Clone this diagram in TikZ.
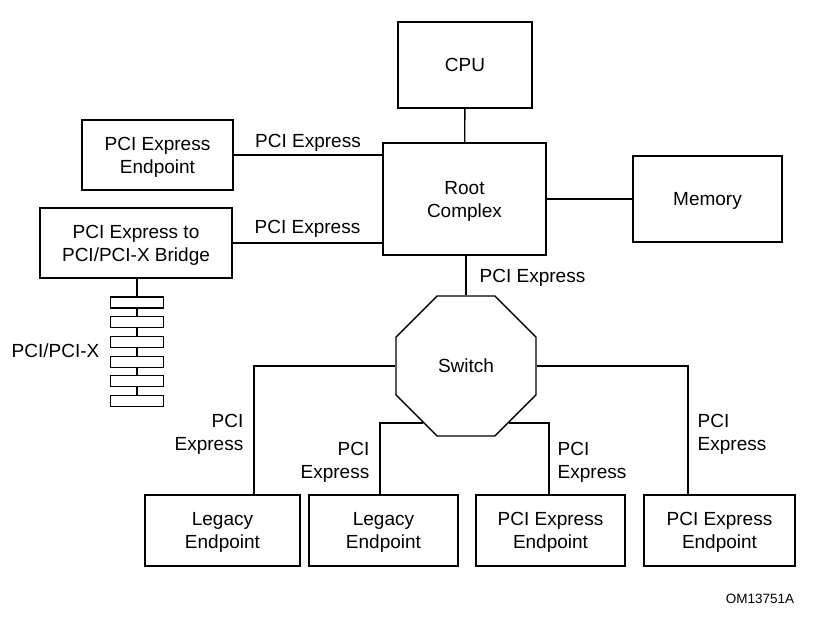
\documentclass[tikz,border=0pt]{standalone}
\usepackage{fontspec}
\setmainfont{Liberation Sans}
\usetikzlibrary{shapes.geometric, positioning, calc}

\begin{document}
\begin{tikzpicture}[x=1pt, y=-1pt, line width=1.4pt,
  unit/.style={draw, minimum height=70pt, inner sep=0pt, text depth=0pt, align=center, font=\fontsize{19}{23}\selectfont},
  buslabel/.style={inner sep=3pt, font=\fontsize{19}{23}\selectfont},
  busbar/.style={draw, fill=white, line width=1.1pt, minimum width=53pt, minimum height=11pt, inner sep=0pt}]
  \useasboundingbox (0,0) rectangle (817,623);

  % host side
  \node[unit, minimum width=134pt, minimum height=86pt] (cpu) at (465,65) {CPU};
  \node[unit, minimum width=163pt, minimum height=112pt] (root) at (464.5,199) {Root\\Complex};
  \node[unit, minimum width=149pt, minimum height=86pt] (mem) at (707.5,199) {Memory};
  \node[unit, minimum width=151pt] (ep) at (157.5,155) {PCI Express\\Endpoint};
  \node[unit, minimum width=192pt] (bridge) at (136,243) {PCI Express to\\PCI/PCI-X Bridge};

  % switch and the endpoints below it
  \node[draw, regular polygon, regular polygon sides=8, minimum size=151.5pt, inner sep=0pt, font=\fontsize{19}{23}\selectfont] (sw) at (466,366) {Switch};
  \node[unit, minimum width=155pt, minimum height=71pt] (leg1) at (222.5,530.5) {Legacy\\Endpoint};
  \node[unit, minimum width=149pt, minimum height=71pt] (leg2) at (383.5,530.5) {Legacy\\Endpoint};
  \node[unit, minimum width=149pt, minimum height=71pt] (pe3) at (550.5,530.5) {PCI Express\\Endpoint};
  \node[unit, minimum width=151pt, minimum height=71pt] (pe4) at (719.5,530.5) {PCI Express\\Endpoint};

  % PCI/PCI-X bus
  \foreach \i in {1,...,6}
    \node[busbar] (bar\i) at (137,{302.5+19.7*(\i-1)}) {};
  \node[buslabel, anchor=east] (pcix) at (103,351) {PCI/PCI-X};
  \draw (bridge.south -| bar1) -- (bar1.north);
  \foreach \i [count=\j from 2] in {1,...,5}
    \draw (bar\i.south) -- (bar\j.north);

  \draw (cpu) -- (root);
  \draw (root) -- (mem);
  \draw (ep.east) -- node[buslabel, above] {PCI Express} (ep.east -| root.west);
  \draw (bridge.east) -- node[buslabel, above, yshift=1.5pt] {PCI Express} (bridge.east -| root.west);
  \draw (root.south -| sw.north) -- node[buslabel, right, xshift=10pt, pos=0.57] {PCI Express} (sw.north);

  \draw (sw.west) -| node[buslabel, pos=0.766, left, align=right, xshift=-7pt] {PCI\\Express} ([xshift=31.5pt]leg1.north);
  \draw (sw.-127) -| node[buslabel, pos=0.777, left, align=right, xshift=-7pt] {PCI\\Express} ([xshift=-3.5pt]leg2.north);
  \draw (sw.-53) -| node[buslabel, pos=0.777, right, align=left, xshift=5pt] {PCI\\Express} ([xshift=-1.5pt]pe3.north);
  \draw (sw.east) -| node[buslabel, pos=0.766, right, align=left, xshift=6pt] {PCI\\Express} ([xshift=-31.5pt]pe4.north);

  \node[font=\fontsize{13.5}{16}\selectfont] (figid) at (760,599) {OM13751A};
\end{tikzpicture}
\end{document}
